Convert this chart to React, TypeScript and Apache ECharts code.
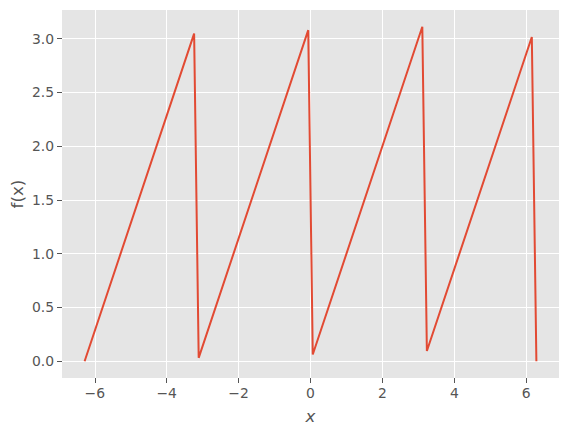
import React, { useEffect, useRef } from "react";
import * as echarts from "echarts";

// Vertices of the sawtooth curve
const xValues = [-6.283, -3.237, -3.110, -0.063, 0.063, 3.110, 3.237, 6.156, 6.283];
const yValues = [0.0, 3.046, 0.032, 3.078, 0.063, 3.110, 0.095, 3.014, 0.0];
const xTicks = [-6, -4, -2, 0, 2, 4, 6];
const yTicks = [0.0, 0.5, 1.0, 1.5, 2.0, 2.5, 3.0];

export default function App() {
  const ref = useRef<HTMLDivElement>(null);
  useEffect(() => {
    if (!ref.current) return;
    const chart = echarts.init(ref.current, undefined, { renderer: "svg" });
    const font = "DejaVu Sans";
    chart.setOption({
      animation: false,
      backgroundColor: "#ffffff",
      grid: {
        left: 62,
        right: 9,
        top: 10,
        bottom: 55,
        show: true,
        backgroundColor: "#E5E5E5",
        borderWidth: 0,
        containLabel: false,
        outerBoundsMode: "none",
      },
      xAxis: {
        type: "value",
        min: -6.912,
        max: 6.912,
        name: "x",
        nameLocation: "middle",
        nameGap: 29,
        nameMoveOverlap: false,
        nameTextStyle: { fontFamily: font, fontStyle: "italic", fontSize: 16.7, color: "#555555" },
        axisLine: { show: false, onZero: false },
        axisTick: { show: true, inside: false, length: 5, lineStyle: { color: "#555555", width: 1 }, customValues: xTicks },
        axisLabel: {
          fontFamily: font,
          fontSize: 13.9,
          color: "#555555",
          margin: 8,
          customValues: xTicks,
          formatter: (v: number) => (v < 0 ? "\u2212" + Math.abs(v) : String(v)),
        },
        splitLine: { show: false },
      },
      yAxis: {
        type: "value",
        min: -0.1555,
        max: 3.2655,
        name: "f(x)",
        nameLocation: "middle",
        nameGap: 37,
        nameMoveOverlap: false,
        nameRotate: 90,
        nameTextStyle: { fontFamily: font, fontSize: 16.7, color: "#555555" },
        axisLine: { show: false, onZero: false },
        axisTick: { show: true, inside: false, length: 5, lineStyle: { color: "#555555", width: 1 }, customValues: yTicks },
        axisLabel: {
          fontFamily: font,
          fontSize: 13.9,
          color: "#555555",
          margin: 8,
          customValues: yTicks,
          formatter: (v: number) => v.toFixed(1),
        },
        splitLine: { show: false },
      },
      series: [
        {
          type: "line",
          data: [],
          silent: true,
          z: 1,
          markLine: {
            silent: true,
            symbol: "none",
            label: { show: false },
            lineStyle: { color: "#ffffff", width: 1, type: "solid" },
            emphasis: { disabled: true },
            data: [
              ...xTicks.map((v) => ({ xAxis: v })),
              ...yTicks.map((v) => ({ yAxis: v })),
            ],
          },
        },
        {
          type: "line",
          z: 5,
          data: xValues.map((x, i) => [x, yValues[i]]),
          showSymbol: false,
          lineStyle: { color: "#E24A33", width: 2 },
          silent: true,
        },
      ],
    });
    return () => chart.dispose();
  }, []);
  return <div ref={ref} style={{ width: 568, height: 433, position: "absolute", left: 0, top: 0 }} />;
}
